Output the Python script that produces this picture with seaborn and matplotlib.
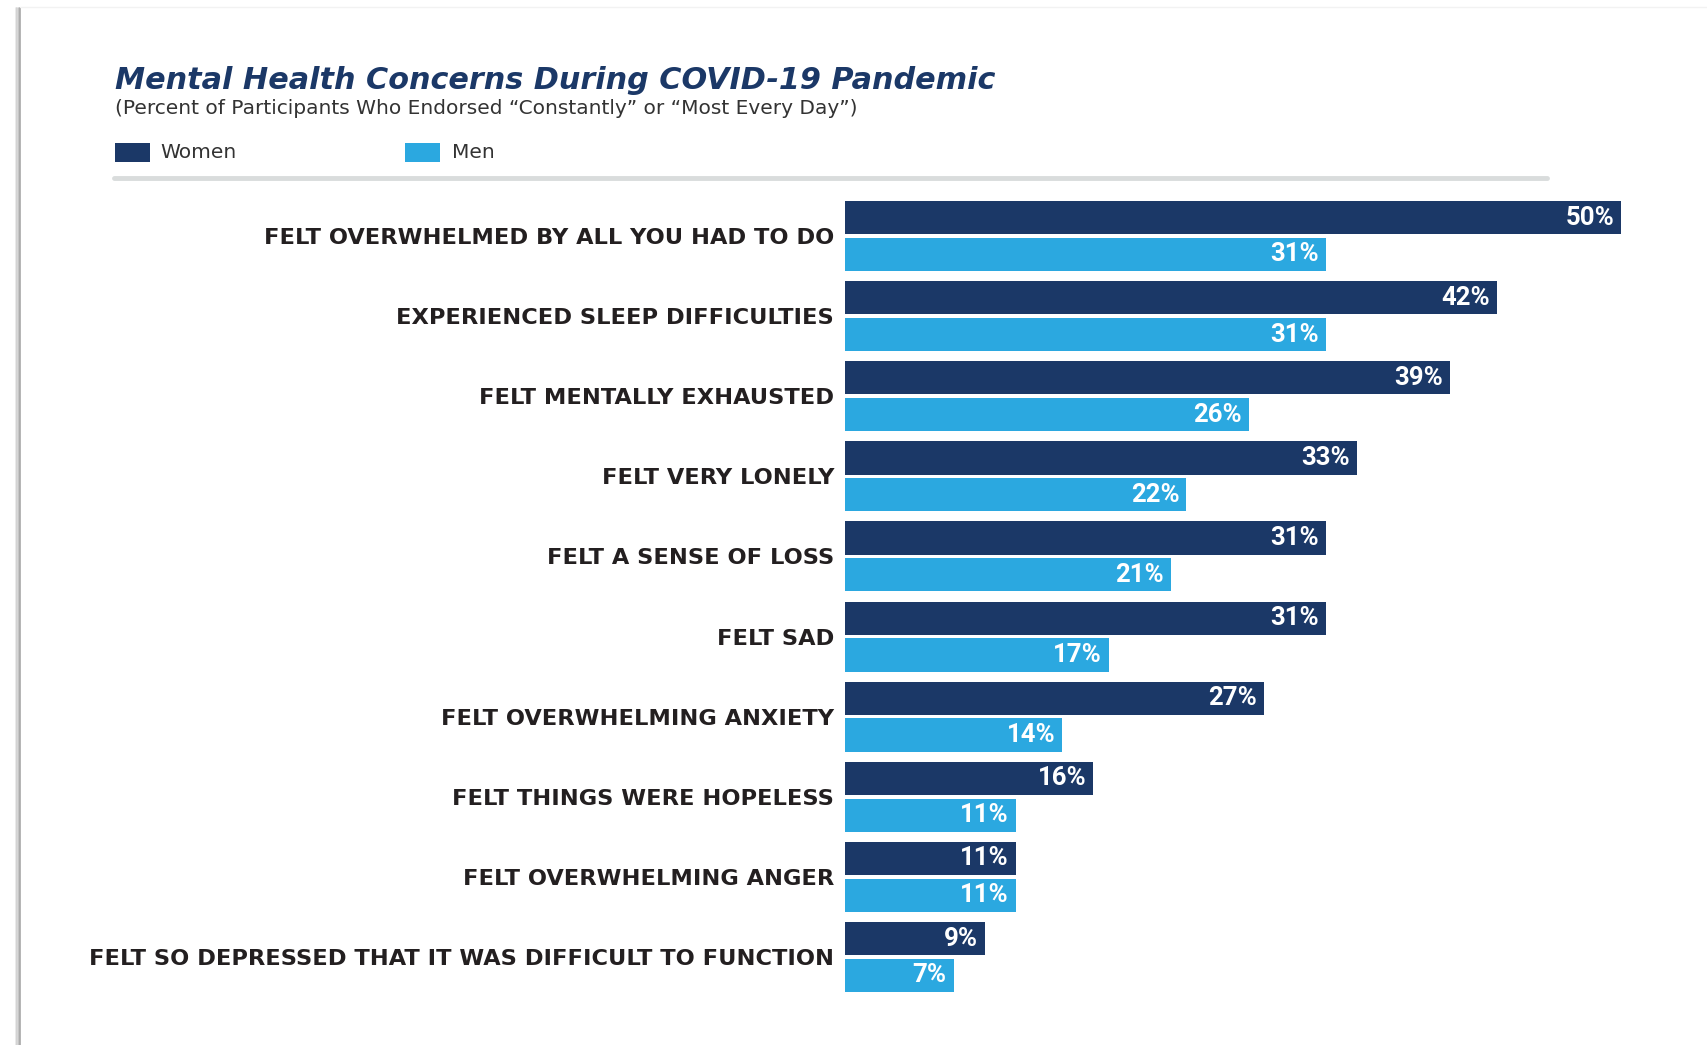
import matplotlib
matplotlib.use("Agg")
import matplotlib.pyplot as plt
import seaborn as sns
import pandas as pd
from matplotlib.lines import Line2D
from matplotlib.patches import Rectangle

categories = [
    "FELT OVERWHELMED BY ALL YOU HAD TO DO",
    "EXPERIENCED SLEEP DIFFICULTIES",
    "FELT MENTALLY EXHAUSTED",
    "FELT VERY LONELY",
    "FELT A SENSE OF LOSS",
    "FELT SAD",
    "FELT OVERWHELMING ANXIETY",
    "FELT THINGS WERE HOPELESS",
    "FELT OVERWHELMING ANGER",
    "FELT SO DEPRESSED THAT IT WAS DIFFICULT TO FUNCTION",
]
women = [50, 42, 39, 33, 31, 31, 27, 16, 11, 9]
men = [31, 31, 26, 22, 21, 17, 14, 11, 11, 7]
series = ["Women", "Men"]

title = "Mental Health Concerns During COVID-19 Pandemic"
subtitle = "(Percent of Participants Who Endorsed \u201cConstantly\u201d or \u201cMost Every Day\u201d)"

NAVY = "#1b3867"
BLUE = "#2ba8e0"

sns.set_theme(style="white")
plt.rcParams["font.family"] = ["DejaVu Sans"]

df = pd.DataFrame({
    "Concern": categories * 2,
    "Percent": women + men,
    "Sex": [series[0]] * len(categories) + [series[1]] * len(categories),
})

W, H = 1708, 1045
fig = plt.figure(figsize=(W / 100, H / 100), dpi=100)
fig.patch.set_facecolor("white")

ax_left = 845 / W
ax_right = (845 + 55 * 15.52) / W
ax_top = 1 - 196 / H
ax_bottom = 1 - 997 / H
ax = fig.add_axes([ax_left, ax_bottom, ax_right - ax_left, ax_top - ax_bottom])

sns.barplot(data=df, y="Concern", x="Percent", hue="Sex", order=categories,
            hue_order=series, palette=[NAVY, BLUE], orient="h",
            width=0.92, gap=0.1, dodge=True, legend=False, ax=ax,
            saturation=1, edgecolor="none")

ax.set_xlim(0, 55)
ax.set_ylim(9.5, -0.5)
for s in ax.spines.values():
    s.set_visible(False)
ax.set_xticks([])
ax.set_xlabel("")
ax.set_ylabel("")
ax.tick_params(axis="y", length=0, pad=8)
for lab in ax.get_yticklabels():
    lab.set_fontsize(16.2)
    lab.set_fontweight("bold")
    lab.set_color("#231f20")

for cont, vals in zip(ax.containers, [women, men]):
    for p, v in zip(cont.patches, vals):
        ax.annotate(f"{v}%", xy=(p.get_x() + p.get_width(), p.get_y() + p.get_height() / 2),
                    xytext=(-5, 0), textcoords="offset points",
                    ha="right", va="center", color="white", fontsize=18.5,
                    fontweight="semibold", family=["Roboto", "DejaVu Sans"])

# Title & subtitle
fig.text(115 / W, 1 - 89 / H, title, fontsize=21.8, fontweight="bold", fontstyle="italic",
         color=NAVY, ha="left", va="baseline")
fig.text(115 / W, 1 - 114 / H, subtitle, fontsize=14.5,
         color="#333333", ha="left", va="baseline")

# Legend
fig.patches.append(Rectangle((115 / W, 1 - 162 / H), 35 / W, 19 / H,
                             transform=fig.transFigure, facecolor=NAVY, edgecolor="none"))
fig.text(160 / W, 1 - 153 / H, series[0], fontsize=14.5, color="#333333", ha="left", va="center")
fig.patches.append(Rectangle((405 / W, 1 - 162 / H), 35 / W, 19 / H,
                             transform=fig.transFigure, facecolor=BLUE, edgecolor="none"))
fig.text(452 / W, 1 - 153 / H, series[1], fontsize=14.5, color="#333333", ha="left", va="center")

# Separator line
fig.add_artist(Line2D([114 / W, 1547 / W], [1 - 178 / H, 1 - 178 / H],
                      transform=fig.transFigure, color="#d9dcdc", linewidth=3.5))

# Page edge shadow
for dx, c in [(16, "#e6e6e6"), (17.5, "#cfcfcf"), (19, "#bababa"), (20.5, "#a8a8a8")]:
    fig.add_artist(Line2D([dx / W, dx / W], [0, 1 - 8 / H], transform=fig.transFigure,
                          color=c, linewidth=1.2))
fig.add_artist(Line2D([20 / W, 1], [1 - 7 / H, 1 - 7 / H], transform=fig.transFigure,
                      color="#f2f2f2", linewidth=1))

fig.savefig("out.png", dpi=100, facecolor="white")
